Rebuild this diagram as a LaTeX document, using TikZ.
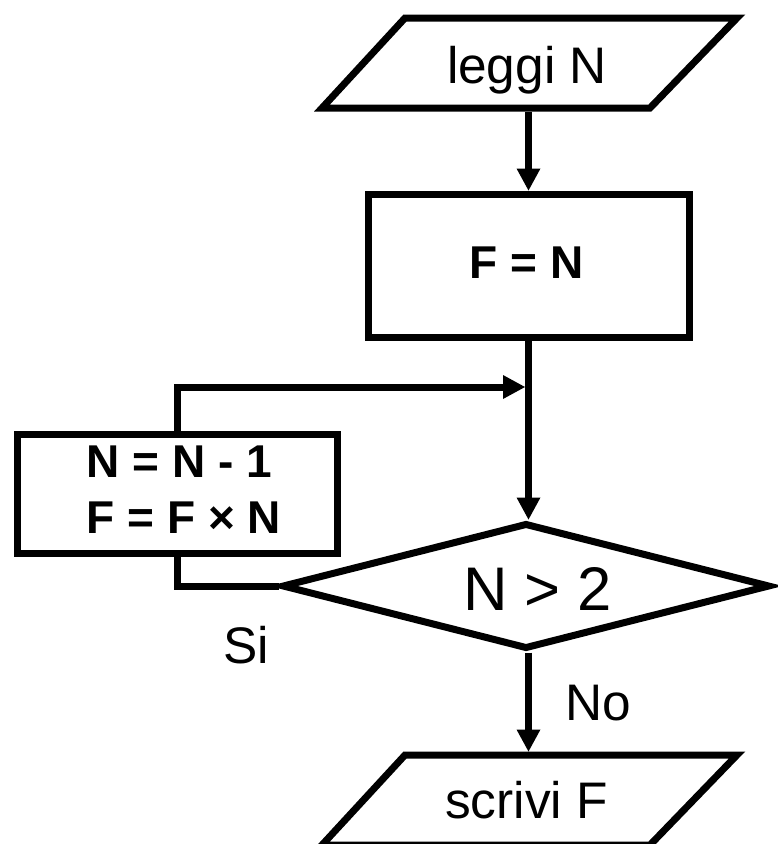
\documentclass[tikz,border=0pt]{standalone}
\usepackage{fontspec}
\setmainfont{Liberation Sans}
\usetikzlibrary{shapes.geometric,arrows.meta}
\begin{document}
\begin{tikzpicture}[x=1pt,y=-1pt,
  shapeline/.style={draw, line width=7pt, inner sep=0pt, line join=miter},
  parabody/.style={rectangle, inner sep=0pt, outer sep=0pt, minimum width=240pt, minimum height=97pt},
  paraline/.style={line width=7pt, line join=miter},
  procbox/.style={shapeline, rectangle},
  cond/.style={shapeline, diamond},
  conn/.style={line width=7pt, line join=miter},
  arr/.style={conn, -{Triangle[length=22pt, width=24pt, line width=0pt]}},
  txt/.style={inner sep=0pt, anchor=base},
  regtxt/.style={txt, font=\fontsize{51.4}{60}\selectfont},
  boldtxt/.style={txt, font=\fontsize{46}{55}\selectfont\bfseries},
  bigtxt/.style={txt, font=\fontsize{61.6}{70}\selectfont},
]
\useasboundingbox (0,0) rectangle (778,844);

% shapes
\node[parabody] (read) at (529.5,63) {};
\draw[paraline] ([shift={(-124.5,-45)}]read.center) -- ([shift={(207.5,-45)}]read.center)
  -- ([shift={(120.5,45)}]read.center) -- ([shift={(-207.5,45)}]read.center) -- cycle;
\node[procbox, minimum width=321pt, minimum height=143pt] (init) at (528.5,265.5) {};
\node[procbox, minimum width=320pt, minimum height=119pt] (upd) at (177,493.5) {};
\node[cond, minimum width=488pt, minimum height=126pt] (dec) at (526,586) {};
\node[parabody] (write) at (529.5,800) {};
\draw[paraline] ([shift={(-124.5,-45)}]write.center) -- ([shift={(207.5,-45)}]write.center)
  -- ([shift={(120.5,45)}]write.center) -- ([shift={(-207.5,45)}]write.center) -- cycle;
\coordinate (merge) at (525,387);

% texts
\node[regtxt] (tread) at (527,83) {leggi N};
\node[boldtxt] (tinit) at (526.5,278) {F = N};
\node[boldtxt, anchor=base west] (tupdA) at (86.6,477) {N = N - 1};
\node[boldtxt, anchor=base west] (tupdB) at (86.6,533) {F = F × N};
\node[bigtxt] (tdec) at (537.5,610) {N > 2};
\node[regtxt] (tno) at (598.5,720) {No};
\node[regtxt] (tsi) at (246,663) {Si};
\node[regtxt] (twrite) at (526.5,818) {scrivi F};

% connectors
\draw[arr] (init.north |- read.south) -- (init.north);
\draw[arr] (init.south) -- (init.south |- dec.north);
\draw[conn] (dec.west) -| (upd.south);
\draw[arr] (upd.north) |- (merge);
\draw[arr] (init.south |- dec.south) -- (init.south |- write.north);
\end{tikzpicture}
\end{document}
